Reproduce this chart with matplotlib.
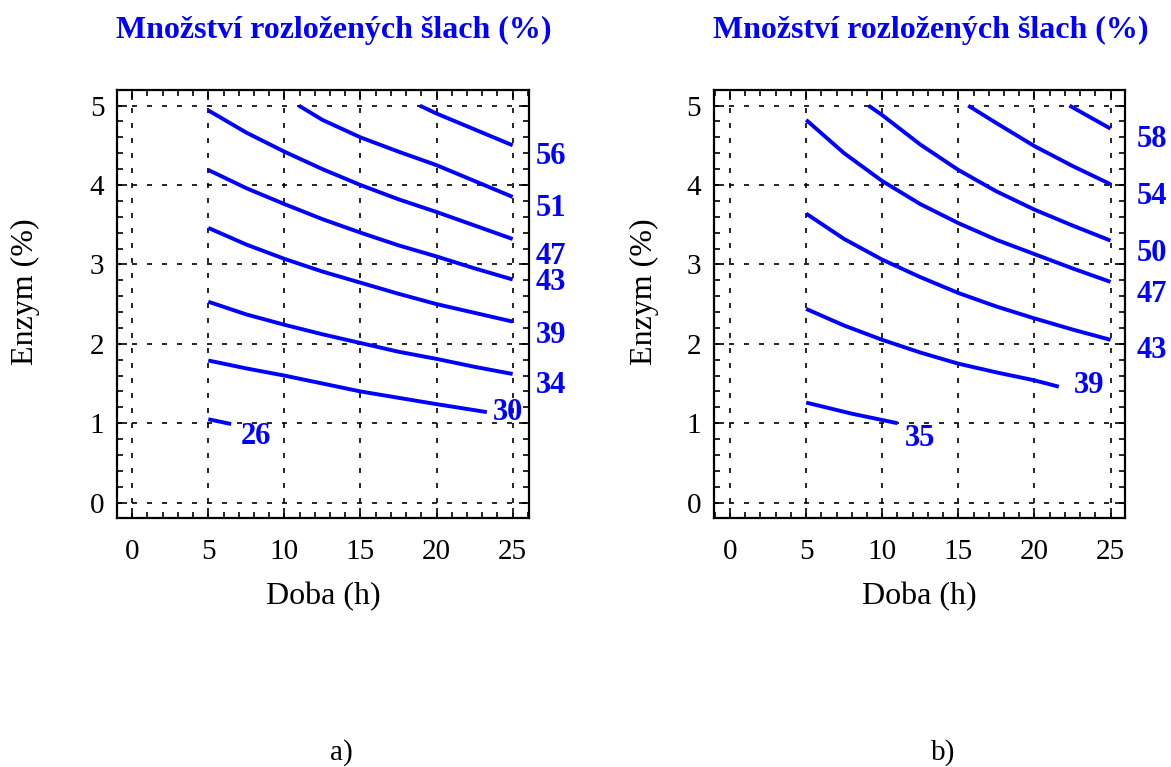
import numpy as np
import matplotlib.pyplot as plt
from matplotlib.ticker import MultipleLocator

plt.rcParams['font.family'] = ['Liberation Serif', 'DejaVu Serif']

# --- panel a) : contour lines ---
a_levels = [56, 51, 47, 43, 39, 34, 30, 26]
a_x = [
    [18.9, 20, 22.5, 25],
    [10.95, 12.5, 15, 17.5, 20, 22.5, 25],
    [5, 7.5, 10, 12.5, 15, 17.5, 20, 22.5, 25],
    [5, 7.5, 10, 12.5, 15, 17.5, 20, 22.5, 25],
    [5, 7.5, 10, 12.5, 15, 17.5, 20, 22.5, 25],
    [5, 7.5, 10, 12.5, 15, 17.5, 20, 22.5, 25],
    [5, 7.5, 10, 12.5, 15, 17.5, 20, 23.3],
    [5, 6.5],
]
a_y = [
    [5.0, 4.9, 4.7, 4.5],
    [5.0, 4.82, 4.6, 4.42, 4.25, 4.05, 3.85],
    [4.94, 4.66, 4.42, 4.2, 4.0, 3.82, 3.66, 3.49, 3.32],
    [4.19, 3.96, 3.76, 3.57, 3.40, 3.24, 3.10, 2.95, 2.81],
    [3.46, 3.25, 3.07, 2.91, 2.77, 2.63, 2.50, 2.39, 2.28],
    [2.53, 2.37, 2.24, 2.12, 2.01, 1.90, 1.81, 1.71, 1.62],
    [1.79, 1.69, 1.60, 1.50, 1.40, 1.32, 1.24, 1.14],
    [1.05, 0.99],
]
a_lab_pos = [(27.5, 4.36), (27.5, 3.71), (27.5, 3.10), (27.5, 2.77),
             (27.5, 2.11), (27.5, 1.47), (24.7, 1.14), (8.1, 0.83)]

# --- panel b) ---
b_levels = [58, 54, 50, 47, 43, 39, 35]
b_x = [
    [22.3, 25],
    [15.65, 17.5, 20, 22.5, 25],
    [9.1, 10, 12.5, 15, 17.5, 20, 22.5, 25],
    [5, 7.5, 10, 12.5, 15, 17.5, 20, 22.5, 25],
    [5, 7.5, 10, 12.5, 15, 17.5, 20, 22.5, 25],
    [5, 7.5, 10, 12.5, 15, 17.5, 20, 21.6],
    [5, 8, 11.0],
]
b_y = [
    [5.0, 4.71],
    [5.0, 4.78, 4.49, 4.24, 4.01],
    [5.0, 4.88, 4.51, 4.19, 3.92, 3.69, 3.49, 3.30],
    [4.82, 4.40, 4.05, 3.76, 3.52, 3.31, 3.13, 2.95, 2.78],
    [3.64, 3.32, 3.06, 2.84, 2.64, 2.47, 2.32, 2.18, 2.05],
    [2.44, 2.23, 2.05, 1.89, 1.75, 1.64, 1.54, 1.46],
    [1.26, 1.12, 1.0],
]
b_lab_pos = [(27.7, 4.57), (27.7, 3.86), (27.7, 3.14), (27.7, 2.62),
             (27.7, 1.92), (23.6, 1.47), (12.5, 0.81)]

x_ticks = [0, 5, 10, 15, 20, 25]
y_ticks = [0, 1, 2, 3, 4, 5]
title = 'Množství rozložených šlach (%)'
xlab = 'Doba (h)'
ylab = 'Enzym (%)'

blue = '#0000ff'
fig = plt.figure(figsize=(11.71, 7.67), dpi=100)
ax_a = fig.add_axes([0.0999, 0.324, 0.3518, 0.559])
ax_b = fig.add_axes([0.6094, 0.324, 0.3517, 0.559])


def draw(ax, levels, xs, ys, lab_pos, tag, xlim, ylab_x, tag_x):
    for lev, x, y, (lx, ly) in zip(levels, xs, ys, lab_pos):
        ax.plot(x, y, color=blue, lw=2.8, solid_capstyle='butt')
        ax.text(lx, ly, str(lev), color=blue, fontsize=22, fontweight='bold',
                ha='center', va='center', clip_on=False)
    ax.set_xlim(*xlim)
    ax.set_ylim(-0.2, 5.2)
    ax.set_xticks(x_ticks)
    ax.set_yticks(y_ticks)
    ax.xaxis.set_minor_locator(MultipleLocator(1))
    ax.yaxis.set_minor_locator(MultipleLocator(0.2))
    ax.tick_params(which='both', direction='in', top=True, right=True, width=1.2)
    ax.tick_params(which='major', length=7)
    ax.tick_params(which='minor', length=4)
    ax.tick_params(axis='x', which='major', labelsize=21, pad=15)
    ax.tick_params(axis='y', which='major', labelsize=21, pad=9)
    ax.grid(True, color='black', linestyle=(0, (3, 6)), lw=1.2)
    for s in ax.spines.values():
        s.set_linewidth(1.6)
    ax.set_xlabel(xlab, fontsize=23, labelpad=12)
    ax.set_ylabel(ylab, fontsize=23)
    ax.yaxis.set_label_coords(ylab_x, 0.53)
    ax.set_title(title, color=blue, fontsize=23, fontweight='bold', pad=37,
                 x=0.527)
    ax.text(tag_x, -0.545, tag, transform=ax.transAxes, fontsize=21,
            ha='center', va='center')


draw(ax_a, a_levels, a_x, a_y, a_lab_pos, 'a)', (-1.0, 26.07), -0.187, 0.544)
draw(ax_b, b_levels, b_x, b_y, b_lab_pos, 'b)', (-1.08, 25.98), -0.133, 0.557)

fig.savefig('out.png', dpi=100)
